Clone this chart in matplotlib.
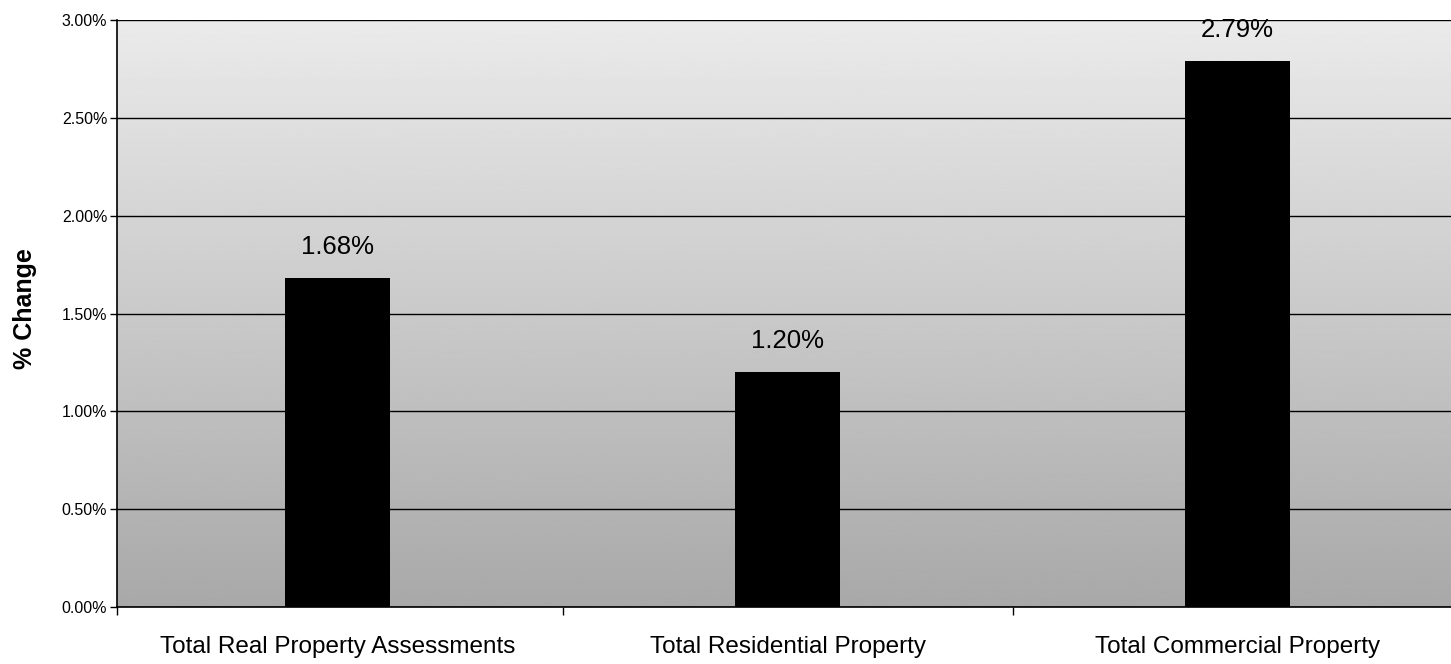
import numpy as np
import matplotlib
matplotlib.use("Agg")
import matplotlib.pyplot as plt
from matplotlib.ticker import FuncFormatter, MultipleLocator

plt.rcParams["font.family"] = ["Liberation Sans", "DejaVu Sans"]

categories = ["Total Real Property Assessments",
              "Total Residential Property",
              "Total Commercial Property"]
pct_change = [1.68, 1.20, 2.79]
value_labels = ["1.68%", "1.20%", "2.79%"]

fig = plt.figure(figsize=(14.51, 6.64), dpi=100)
fig.patch.set_facecolor("white")
ax = fig.add_axes([117 / 1451, 57 / 664, 1345.5 / 1451, 587 / 664])

x = np.arange(len(categories))
x_lo, x_hi = -0.49, len(categories) - 0.5
ax.set_xlim(x_lo, x_hi)
ax.set_ylim(0, 3.0)

# Grey plot-area shading, lighter at the top, darker toward the base
shade = np.linspace(0.66, 0.92, 256).reshape(-1, 1)
ax.imshow(shade, cmap="gray", vmin=0, vmax=1, origin="lower", aspect="auto",
          extent=(x_lo, x_hi, 0, 3.0), zorder=0)

ax.yaxis.set_major_locator(MultipleLocator(0.5))
ax.yaxis.set_major_formatter(FuncFormatter(lambda v, _: f"{v:.2f}%"))
ax.grid(axis="y", color="black", linewidth=1.0, zorder=1)
ax.set_axisbelow(True)

ax.bar(x, pct_change, width=0.234, color="black", zorder=3)

for xi, v, lab in zip(x, pct_change, value_labels):
    ax.text(xi, v + 0.125, lab, ha="center", va="baseline", fontsize=18.5, zorder=4)

# Category separators on the x axis
ax.set_xticks([x_lo] + list(np.arange(1, len(categories)) - 0.5), minor=True)
ax.set_xticks(x)
ax.set_xticklabels(categories, fontsize=17.5)
ax.tick_params(axis="x", which="major", length=0, pad=21)
ax.tick_params(axis="x", which="minor", length=6, width=1, color="black")
ax.tick_params(axis="y", labelsize=11.5, length=5, width=1, pad=2)

fig.text(25 / 1451, 1 - 309 / 664, "% Change", rotation=90, ha="center",
         va="center", fontsize=18, fontweight="bold")

for side in ("top", "right"):
    ax.spines[side].set_visible(False)
ax.spines["left"].set_linewidth(1.2)
ax.spines["bottom"].set_linewidth(1.2)
ax.axhline(3.0, color="black", linewidth=1.2, zorder=2)

fig.savefig("out.png", dpi=100)
